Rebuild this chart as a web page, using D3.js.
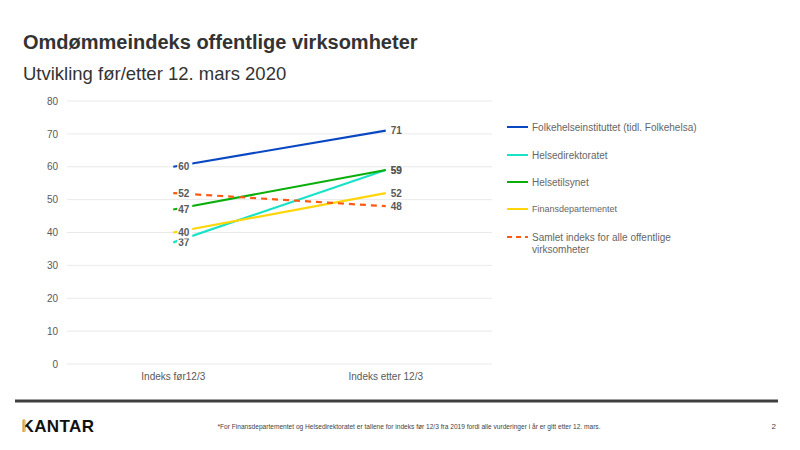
<!DOCTYPE html>
<html lang="no">
<head>
<meta charset="UTF-8">
<title>Omdømmeindeks offentlige virksomheter</title>
<style>
    body { margin: 0; background: #fff; font-family: "Liberation Sans", Arial, sans-serif; }
    svg { display: block; }
</style>
<script src="https://d3js.org/d3.v7.min.js"></script>
</head>
<body>
<div id="chart"></div>
<script>
// data
const categories = ["Indeks før12/3", "Indeks etter 12/3"];
const seriesNames = [
    "Folkehelseinstituttet (tidl. Folkehelsa)",
    "Helsedirektoratet",
    "Helsetilsynet",
    "Finansdepartementet",
    "Samlet indeks for alle offentlige virksomheter"
];
const folkehelse = [60, 71];
const helsedir = [37, 59];
const helsetilsyn = [47, 59];
const finans = [40, 52];
const samlet = [52, 48];
const yTicks = [0, 10, 20, 30, 40, 50, 60, 70, 80];

const colors = ["#0a47c2", "#19e3c6", "#0aae0a", "#ffd60a", "#ff5a14"];
const allValues = [folkehelse, helsedir, helsetilsyn, finans, samlet];

const width = 800, height = 450;
const svg = d3.select("#chart").append("svg")
    .attr("width", width)
    .attr("height", height);

// titles
svg.append("text")
    .attr("x", 23).attr("y", 49)
    .attr("font-size", 20).attr("font-weight", "bold").attr("fill", "#333")
    .text("Omdømmeindeks offentlige virksomheter");
svg.append("text")
    .attr("x", 23).attr("y", 80)
    .attr("font-size", 18.5).attr("fill", "#333")
    .text("Utvikling før/etter 12. mars 2020");

const x = d3.scaleBand().domain(categories).range([67, 492]);
const y = d3.scaleLinear().domain([0, 80]).range([364, 101]);

// grid
svg.append("g").selectAll("line")
    .data(yTicks)
    .join("line")
    .attr("x1", 67).attr("x2", 492)
    .attr("y1", d => y(d)).attr("y2", d => y(d))
    .attr("stroke", "#e3e3e3").attr("stroke-width", 0.8);

const yAxis = svg.append("g")
    .attr("transform", "translate(67,0)")
    .call(d3.axisLeft(y).tickValues(yTicks).tickSize(0).tickPadding(9));
yAxis.select(".domain").remove();
yAxis.selectAll("text")
    .attr("font-family", "Liberation Sans, Arial, sans-serif")
    .attr("font-size", 10).attr("fill", "#595959");

const xAxis = svg.append("g")
    .attr("transform", "translate(0,364)")
    .call(d3.axisBottom(x).tickSize(0).tickPadding(9));
xAxis.select(".domain").remove();
xAxis.selectAll("text")
    .attr("font-family", "Liberation Sans, Arial, sans-serif")
    .attr("font-size", 10).attr("fill", "#595959");

const cx = c => x(c) + x.bandwidth() / 2;

// lines
const line = d3.line()
    .x((d, i) => cx(categories[i]))
    .y(d => y(d));

allValues.forEach((vals, s) => {
    svg.append("path")
        .datum(vals)
        .attr("d", line)
        .attr("fill", "none")
        .attr("stroke", colors[s])
        .attr("stroke-width", 2.2)
        .attr("stroke-dasharray", s === 4 ? "6,5" : null);
});

// data labels (left ones sit on a white patch over the line start)
const labelG = svg.append("g")
    .attr("font-size", 10).attr("font-weight", "bold").attr("fill", "#595959");

allValues.forEach((vals, s) => {
    vals.forEach((v, i) => {
        const px = cx(categories[i]) + 5;
        const py = y(v);
        if (i === 0) {
            labelG.append("rect")
                .attr("x", px - 1).attr("y", py - 6)
                .attr("width", 15).attr("height", 12)
                .attr("fill", "#fff");
        }
        labelG.append("text")
            .attr("x", px).attr("y", py)
            .attr("dy", "0.35em")
            .text(v);
    });
});

// legend
const legendY = [127, 155, 182, 209, 237];
const legend = svg.append("g");
seriesNames.forEach((name, s) => {
    const g = legend.append("g").attr("transform", `translate(507,${legendY[s]})`);
    g.append("line")
        .attr("x1", 0).attr("x2", 21)
        .attr("stroke", colors[s]).attr("stroke-width", 2)
        .attr("stroke-dasharray", s === 4 ? "5,4" : null);
    const t = g.append("text")
        .attr("x", 25).attr("dy", "0.35em")
        .attr("font-size", s === 3 ? 9 : 10).attr("fill", "#666");
    if (s === 4) {
        t.append("tspan").attr("x", 25).text("Samlet indeks for alle offentlige");
        t.append("tspan").attr("x", 25).attr("dy", 12).text("virksomheter");
    } else {
        t.text(name);
    }
});

// footer
svg.append("line")
    .attr("x1", 15).attr("x2", 778)
    .attr("y1", 401).attr("y2", 401)
    .attr("stroke", "#404040").attr("stroke-width", 3);

svg.append("text")
    .attr("x", 21.5).attr("y", 432)
    .attr("font-size", 17).attr("font-weight", "bold").attr("fill", "#111")
    .attr("letter-spacing", 0.4)
    .text("KANTAR");
// gold stem of the K
svg.append("rect")
    .attr("x", 22.6).attr("y", 419.3)
    .attr("width", 2.7).attr("height", 12.7)
    .attr("fill", "#fff");
svg.append("rect")
    .attr("x", 22.9).attr("y", 419.3)
    .attr("width", 1.9).attr("height", 12.7)
    .attr("fill", "#d6ae3c");
svg.append("text")
    .attr("x", 409).attr("y", 429)
    .attr("text-anchor", "middle")
    .attr("font-size", 6.6).attr("fill", "#444")
    .text("*For Finansdepartementet  og Helsedirektoratet  er tallene for indeks før 12/3 fra 2019 fordi alle vurderinger  i år er gitt etter 12. mars.");
svg.append("text")
    .attr("x", 776).attr("y", 429)
    .attr("text-anchor", "end")
    .attr("font-size", 8).attr("fill", "#444")
    .text("2");
</script>
</body>
</html>
